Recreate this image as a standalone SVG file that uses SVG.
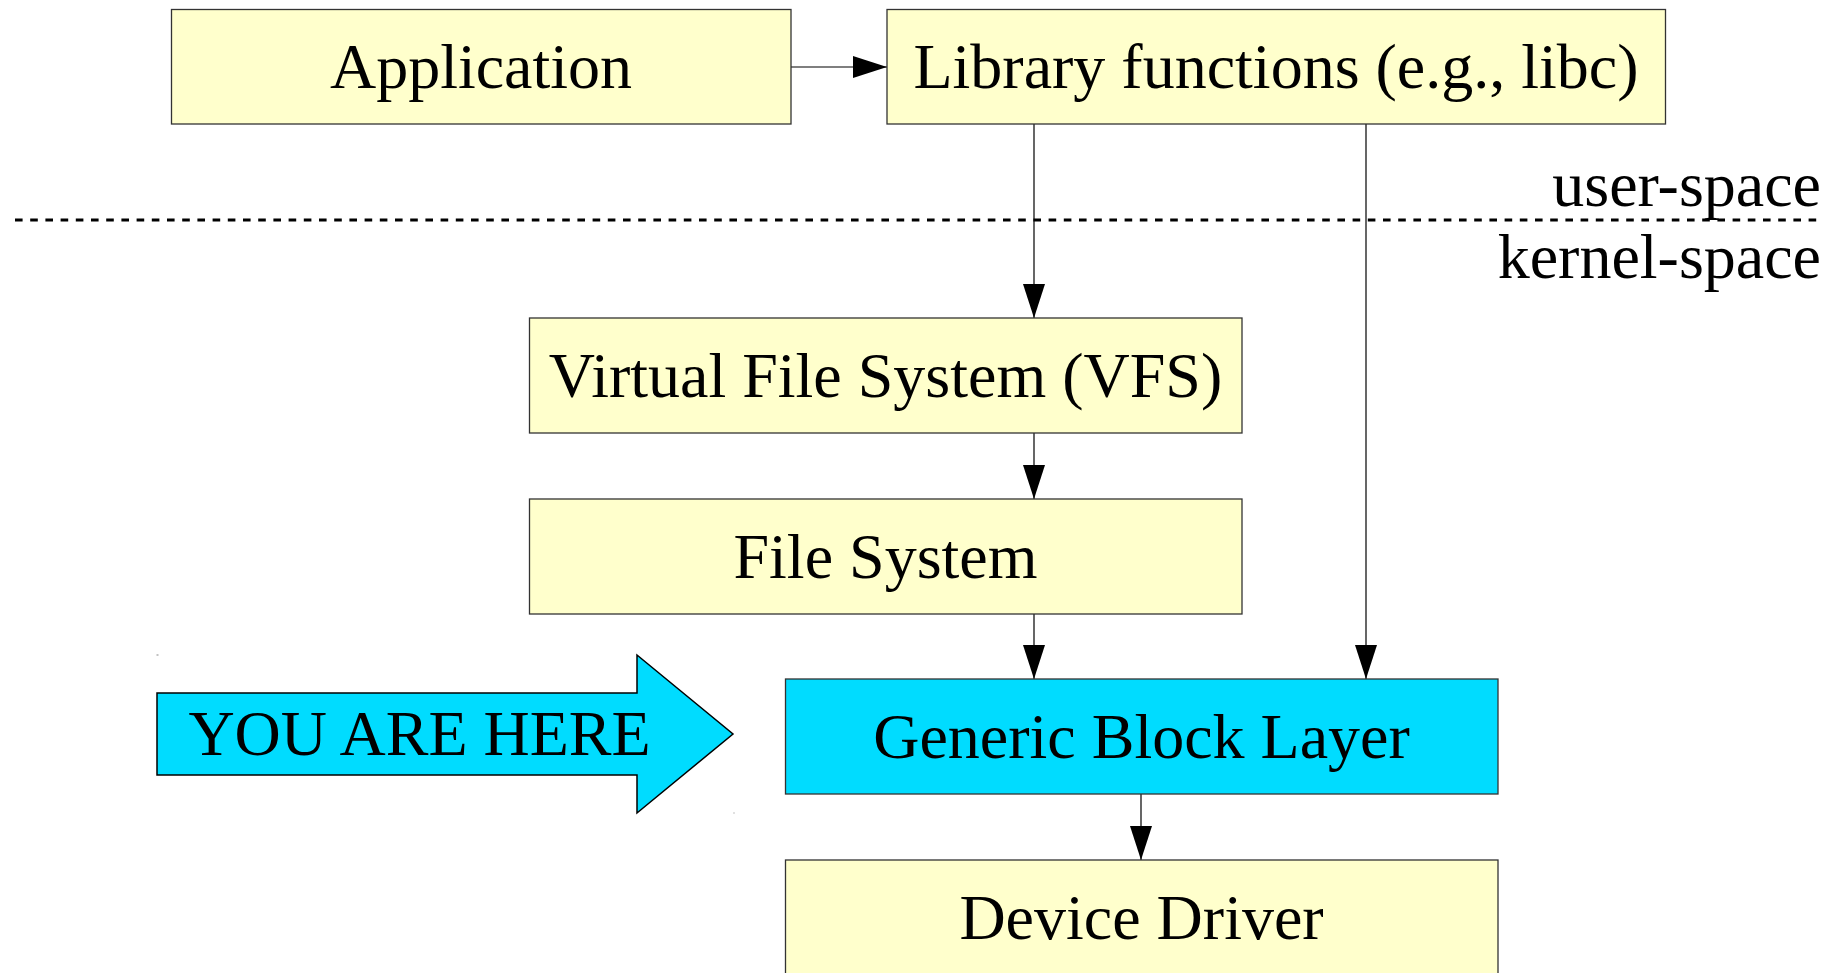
<svg xmlns="http://www.w3.org/2000/svg" width="1844" height="973" viewBox="0 0 1844 973">
  <style>
    .box { fill: #ffffcc; stroke: #333333; stroke-width: 1.3; }
    .hot { fill: #00dcff; stroke: #333333; stroke-width: 1.3; }
    .lbl { font-family: "Liberation Serif", "Times New Roman", serif; font-size: 64px; fill: #000; text-anchor: middle; }
    .side { font-family: "Liberation Serif", "Times New Roman", serif; font-size: 64px; fill: #000; text-anchor: end; }
    .wire { fill: none; stroke: #000; stroke-width: 1.2; }
  </style>
  <defs>
    <marker id="head" markerUnits="userSpaceOnUse" markerWidth="34" markerHeight="22" refX="34" refY="11" orient="auto" viewBox="0 0 34 22">
      <path d="M0,0 L34,11 L0,22 Z" fill="#000"/>
    </marker>
  </defs>

  <rect width="1844" height="973" fill="#ffffff"/>

  <!-- user/kernel boundary -->
  <g id="boundary">
    <line x1="15" y1="220" x2="1820" y2="220" stroke="#000" stroke-width="3.2" stroke-dasharray="7.6 7.6"/>
    <text class="side" x="1821" y="206">user-space</text>
    <text class="side" x="1821" y="278">kernel-space</text>
  </g>

  <g id="connectors">
    <line class="wire" x1="791" y1="67" x2="887" y2="67" marker-end="url(#head)"/>
    <line class="wire" x1="1034" y1="124" x2="1034" y2="318" marker-end="url(#head)"/>
    <line class="wire" x1="1366" y1="124" x2="1366" y2="679" marker-end="url(#head)"/>
    <line class="wire" x1="1034" y1="433" x2="1034" y2="499" marker-end="url(#head)"/>
    <line class="wire" x1="1034" y1="614" x2="1034" y2="679" marker-end="url(#head)"/>
    <line class="wire" x1="1141" y1="794" x2="1141" y2="860" marker-end="url(#head)"/>
  </g>

  <g id="application">
    <rect class="box" x="171.5" y="9.5" width="619.5" height="114.5"/>
    <text class="lbl" x="481" y="87.5">Application</text>
  </g>

  <g id="libc">
    <rect class="box" x="887" y="9.5" width="778.5" height="114.5"/>
    <text class="lbl" x="1276" y="87.5">Library functions (e.g., libc)</text>
  </g>

  <g id="vfs">
    <rect class="box" x="529.5" y="318" width="712.5" height="115"/>
    <text class="lbl" x="885.5" y="396.5">Virtual File System (VFS)</text>
  </g>

  <g id="filesystem">
    <rect class="box" x="529.5" y="499" width="712.5" height="115"/>
    <text class="lbl" x="885.5" y="577.5">File System</text>
  </g>

  <g id="block-layer">
    <rect class="hot" x="785.5" y="679" width="712.5" height="115"/>
    <text class="lbl" x="1141.5" y="757.5">Generic Block Layer</text>
  </g>

  <g id="device-driver">
    <rect class="box" x="785.5" y="860" width="712.5" height="130"/>
    <text class="lbl" x="1141.5" y="938.5">Device Driver</text>
  </g>

  <g id="you-are-here">
    <path d="M157,693 L637,693 L637,655 L733,734 L637,813 L637,775 L157,775 Z" fill="#00dcff" stroke="#000" stroke-width="1.5" stroke-linejoin="miter"/>
    <text class="lbl" x="419.5" y="755">YOU ARE HERE</text>
    <rect x="156.5" y="654.5" width="2" height="1" fill="#888"/>
    <rect x="733.5" y="812.5" width="1" height="1" fill="#888"/>
  </g>
</svg>
